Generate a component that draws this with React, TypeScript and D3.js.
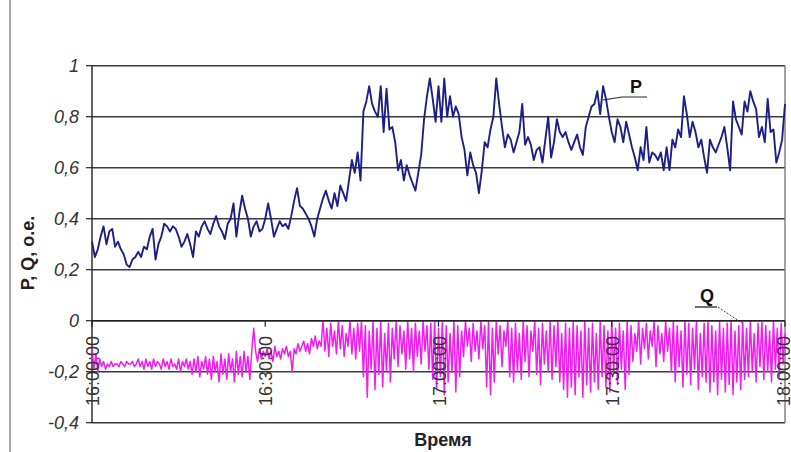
import React from "react";
import * as d3 from "d3";

// P, o.e. — sampled every 30 s from 16:00:00 to 18:00:00
const pValues: number[] = [
  0.31, 0.25, 0.28, 0.33, 0.37, 0.30, 0.35, 0.36, 0.29, 0.31,
  0.28, 0.26, 0.22, 0.21, 0.24, 0.25, 0.27, 0.25, 0.29, 0.28,
  0.33, 0.36, 0.24, 0.30, 0.33, 0.38, 0.37, 0.35, 0.37, 0.36,
  0.33, 0.29, 0.31, 0.34, 0.30, 0.25, 0.35, 0.33, 0.37, 0.39,
  0.36, 0.34, 0.38, 0.41, 0.37, 0.35, 0.32, 0.38, 0.40, 0.46,
  0.33, 0.42, 0.49, 0.44, 0.40, 0.33, 0.37, 0.39, 0.35, 0.36,
  0.40, 0.46, 0.40, 0.33, 0.36, 0.39, 0.37, 0.38, 0.36, 0.41,
  0.47, 0.52, 0.45, 0.44, 0.42, 0.40, 0.37, 0.33, 0.40, 0.44,
  0.48, 0.51, 0.47, 0.44, 0.50, 0.45, 0.53, 0.50, 0.47, 0.55,
  0.63, 0.58, 0.66, 0.55, 0.82, 0.86, 0.92, 0.85, 0.82, 0.80,
  0.92, 0.74, 0.91, 0.75, 0.76, 0.70, 0.59, 0.63, 0.55, 0.61,
  0.57, 0.54, 0.51, 0.58, 0.65, 0.79, 0.88, 0.95, 0.87, 0.78,
  0.92, 0.78, 0.95, 0.80, 0.88, 0.80, 0.84, 0.81, 0.72, 0.67,
  0.57, 0.66, 0.61, 0.58, 0.50, 0.59, 0.70, 0.68, 0.75, 0.80,
  0.95, 0.85, 0.76, 0.68, 0.73, 0.71, 0.66, 0.70, 0.74, 0.85,
  0.69, 0.72, 0.69, 0.63, 0.67, 0.68, 0.62, 0.71, 0.80, 0.64,
  0.70, 0.79, 0.74, 0.72, 0.74, 0.70, 0.67, 0.70, 0.73, 0.68,
  0.65, 0.76, 0.80, 0.84, 0.85, 0.90, 0.81, 0.92, 0.87, 0.80,
  0.74, 0.70, 0.79, 0.76, 0.70, 0.78, 0.73, 0.68, 0.64, 0.59,
  0.68, 0.63, 0.76, 0.62, 0.66, 0.65, 0.63, 0.66, 0.59, 0.68,
  0.59, 0.71, 0.68, 0.75, 0.72, 0.88, 0.81, 0.72, 0.78, 0.74,
  0.68, 0.71, 0.64, 0.58, 0.71, 0.68, 0.66, 0.69, 0.72, 0.76,
  0.68, 0.59, 0.86, 0.79, 0.76, 0.73, 0.86, 0.82, 0.90, 0.86,
  0.83, 0.72, 0.76, 0.70, 0.87, 0.74, 0.75, 0.62, 0.66, 0.71, 0.85,
];

// Q, o.e. — sampled every 20 s from 16:00:00 to 18:00:00
const qValues: number[] = [
  -0.11, -0.19, -0.13, -0.2, -0.15, -0.18, -0.16, -0.19, -0.17, -0.18,
  -0.16, -0.18, -0.17, -0.17, -0.18, -0.16, -0.17, -0.18, -0.16, -0.17,
  -0.17, -0.16, -0.18, -0.17, -0.15, -0.18, -0.16, -0.19, -0.15, -0.18,
  -0.16, -0.19, -0.15, -0.18, -0.16, -0.17, -0.19, -0.15, -0.18, -0.16,
  -0.19, -0.15, -0.18, -0.17, -0.19, -0.15, -0.2, -0.16, -0.18, -0.15,
  -0.19, -0.16, -0.21, -0.15, -0.2, -0.14, -0.22, -0.16, -0.19, -0.14,
  -0.21, -0.15, -0.23, -0.14, -0.2, -0.16, -0.24, -0.13, -0.21, -0.15,
  -0.23, -0.13, -0.2, -0.15, -0.24, -0.12, -0.21, -0.14, -0.22, -0.12,
  -0.2, -0.14, -0.23, -0.12, -0.03, -0.12, -0.16, -0.11, -0.15, -0.12,
  -0.14, -0.11, -0.15, -0.12, -0.16, -0.1, -0.14, -0.12, -0.15, -0.11,
  -0.13, -0.1, -0.14, -0.12, -0.2, -0.11, -0.13, -0.09, -0.12, -0.1,
  -0.08, -0.12, -0.09, -0.13, -0.07, -0.1, -0.06, -0.11, -0.08, -0.1,
  0, -0.12, -0.03, -0.14, -0.01, -0.1, -0.04, -0.13, 0, -0.11,
  -0.02, -0.14, -0.05, -0.1, 0, -0.13, -0.03, -0.15, -0.01, -0.12,
  0, -0.22, -0.02, -0.3, -0.04, -0.19, 0, -0.27, -0.03, -0.21,
  0, -0.26, -0.05, -0.2, -0.01, -0.24, -0.03, -0.15, 0, -0.18,
  -0.02, -0.13, -0.04, -0.19, 0, -0.15, -0.03, -0.2, -0.01, -0.14,
  -0.04, -0.17, 0, -0.12, -0.02, -0.19, -0.01, -0.23, 0, -0.27,
  -0.03, -0.22, 0, -0.29, -0.02, -0.24, -0.05, -0.2, 0, -0.28,
  -0.02, -0.22, -0.04, -0.14, 0, -0.1, -0.03, -0.16, -0.01, -0.12,
  -0.04, -0.15, 0, -0.11, -0.02, -0.26, 0, -0.29, -0.03, -0.24,
  0, -0.13, -0.02, -0.18, -0.04, -0.1, 0, -0.22, -0.03, -0.24,
  -0.01, -0.2, -0.05, -0.23, 0, -0.16, -0.02, -0.22, -0.04, -0.12,
  0, -0.21, -0.03, -0.25, -0.01, -0.17, -0.04, -0.2, 0, -0.23,
  -0.02, -0.18, 0, -0.24, -0.05, -0.27, -0.01, -0.3, -0.03, -0.26,
  0, -0.29, -0.02, -0.22, -0.04, -0.3, 0, -0.25, -0.03, -0.28,
  -0.01, -0.24, -0.05, -0.27, 0, -0.22, -0.02, -0.26, -0.04, -0.28,
  0, -0.2, -0.03, -0.25, -0.01, -0.19, -0.04, -0.27, 0, -0.21,
  -0.02, -0.16, -0.05, -0.12, 0, -0.17, -0.03, -0.11, -0.01, -0.15,
  -0.04, -0.1, 0, -0.18, -0.02, -0.13, -0.05, -0.16, 0, -0.12,
  -0.03, -0.2, 0, -0.24, -0.02, -0.18, -0.04, -0.26, 0, -0.21,
  -0.01, -0.25, -0.03, -0.19, 0, -0.27, -0.05, -0.22, -0.01, -0.24,
  0, -0.28, -0.02, -0.24, -0.04, -0.29, 0, -0.23, -0.03, -0.28,
  -0.01, -0.25, 0, -0.29, -0.04, -0.24, -0.02, -0.27, 0, -0.23,
  -0.03, -0.22, 0, -0.2, -0.05, -0.24, -0.01, -0.18, 0, -0.23,
  -0.02, -0.2, -0.04, -0.24, 0, -0.19, -0.03, -0.22, -0.01, -0.17, -0.05,
];

const pStepMinutes = 0.5;
const qStepMinutes = 1 / 3;

const xTickMinutes = [0, 30, 60, 90, 120];
const xTickLabels = ["16:00:00", "16:30:00", "17:00:00", "17:30:00", "18:00:00"];
const yTickValues = [-0.4, -0.2, 0, 0.2, 0.4, 0.6, 0.8, 1];
const yTickLabels = ["-0,4", "-0,2", "0", "0,2", "0,4", "0,6", "0,8", "1"];

const W = 791;
const H = 452;
const plotLeft = 92;
const plotRight = 785;
const plotTop = 65.7;
const plotBottom = 422.7;
const FONT = "'Liberation Sans', Arial, sans-serif";

export default function App() {
  const x = d3.scaleLinear().domain([0, 120]).range([plotLeft, plotRight]);
  const y = d3.scaleLinear().domain([-0.4, 1]).range([plotBottom, plotTop]);

  const pLine = d3
    .line<number>()
    .x((_, i) => x(i * pStepMinutes))
    .y((d) => y(d));
  const qLine = d3
    .line<number>()
    .x((_, i) => x(i * qStepMinutes))
    .y((d) => y(d));

  return (
    <svg
      width={W}
      height={H}
      style={{ position: "absolute", left: 0, top: 0, background: "#fff" }}
      fontFamily={FONT}
    >
      <rect x={0} y={0} width={W} height={H} fill="#fff" />
      {/* outer chart border (left edge) */}
      <line x1={10} x2={10} y1={0} y2={H} stroke="#8a8a8a" strokeWidth={1.5} />

      {/* gridlines */}
      {yTickValues.map((v) => (
        <line
          key={"g" + v}
          x1={plotLeft}
          x2={plotRight}
          y1={y(v)}
          y2={y(v)}
          stroke="#3a3a3a"
          strokeWidth={1.4}
        />
      ))}
      {/* plot frame */}
      <line x1={plotRight} x2={plotRight} y1={plotTop} y2={plotBottom} stroke="#7a7a7a" strokeWidth={1.4} />
      <line x1={plotLeft} x2={plotLeft} y1={plotTop} y2={plotBottom} stroke="#222" strokeWidth={1.4} />

      {/* y ticks & labels */}
      {yTickValues.map((v, i) => (
        <g key={"y" + v}>
          <line x1={plotLeft - 6} x2={plotLeft} y1={y(v)} y2={y(v)} stroke="#222" strokeWidth={1.2} />
          <text
            x={79}
            y={y(v)}
            dy="0.36em"
            textAnchor="end"
            fontSize={18}
            fontStyle="italic"
            fill="#333"
          >
            {yTickLabels[i]}
          </text>
        </g>
      ))}

      {/* series */}
      <path d={qLine(qValues) || ""} fill="none" stroke="#f21cf2" strokeWidth={1.5} strokeLinejoin="round" />
      <path d={pLine(pValues) || ""} fill="none" stroke="#1e1e88" strokeWidth={1.9} strokeLinejoin="round" />

      {/* category axis at 0 */}
      <line x1={plotLeft} x2={plotRight} y1={y(0)} y2={y(0)} stroke="#222" strokeWidth={1.4} />
      {xTickMinutes.map((m, i) => (
        <g key={"x" + m}>
          <line x1={x(m)} x2={x(m)} y1={y(0)} y2={y(0) + 6} stroke="#222" strokeWidth={1.2} />
          <text
            transform={`translate(${Math.min(x(m) + 7, 790)},336) rotate(-90)`}
            textAnchor="end"
            fontSize={18}
            fill="#333"
          >
            {xTickLabels[i]}
          </text>
        </g>
      ))}

      {/* axis titles */}
      <text
        transform={`translate(34,253) rotate(-90)`}
        textAnchor="middle"
        fontSize={18}
        fontWeight="bold"
        fill="#222"
      >
        P, Q, o.e.
      </text>
      <text x={443} y={446} textAnchor="middle" fontSize={18} fontWeight="bold" fill="#222">
        Время
      </text>

      {/* series annotations */}
      <text x={636} y={93} textAnchor="middle" fontSize={18} fontWeight="bold" fill="#111">
        P
      </text>
      <polyline points="603,100 622,97 647,97" fill="none" stroke="#222" strokeWidth={1.2} />
      <text x={707} y={302} textAnchor="middle" fontSize={18} fontWeight="bold" fill="#111">
        Q
      </text>
      <line x1={695} x2={717} y1={307} y2={307} stroke="#222" strokeWidth={1.3} />
      <line x1={718} x2={742} y1={307} y2={323} stroke="#333" strokeWidth={1} strokeDasharray="2,1.5" />
    </svg>
  );
}
